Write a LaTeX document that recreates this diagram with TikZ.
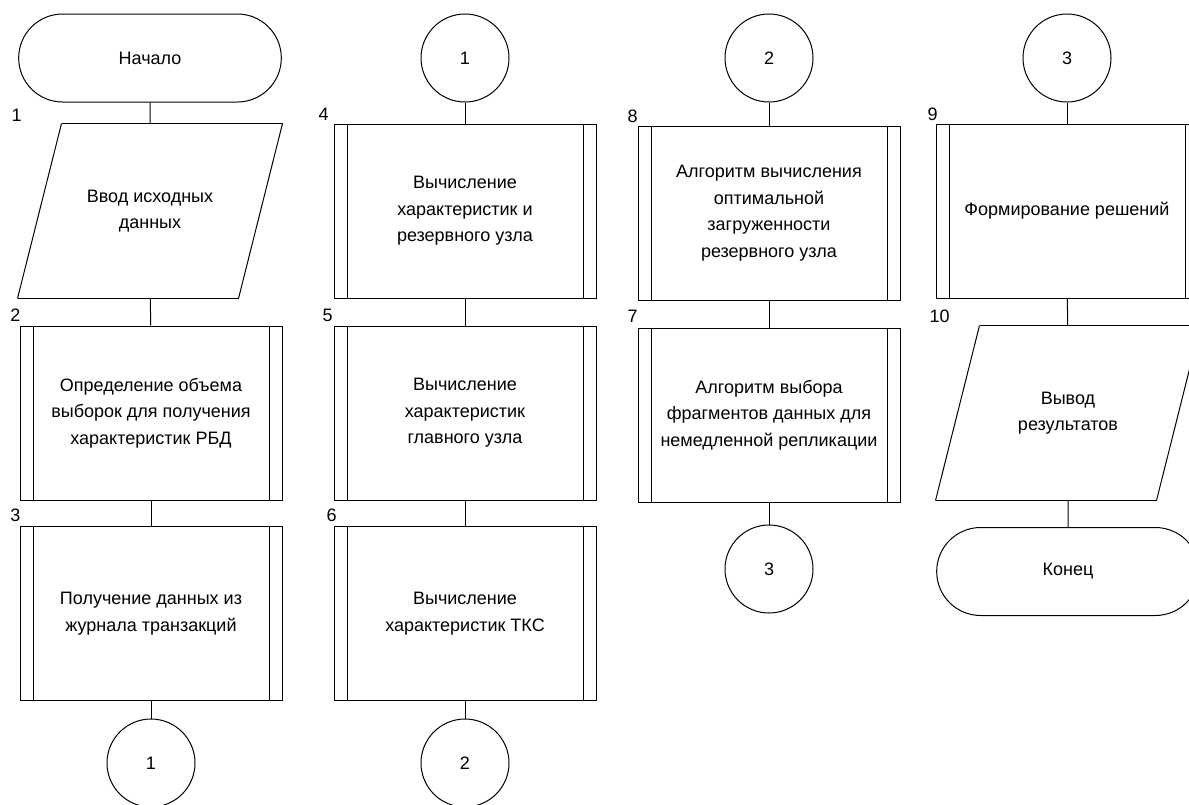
\documentclass[tikz,border=0pt]{standalone}
\usepackage{fontspec}
\setmainfont{Liberation Sans}
\usepackage{tikz}
\usetikzlibrary{
  shapes.misc
}

\begin{document}
\begin{tikzpicture}[
          x=0.5pt,y=-0.5pt,
          line width=0.5pt,
          every node/.style={
              font=\fontsize{9pt}{13.3pt}\selectfont
            },terminal/.style={
              draw,
              rounded rectangle,
              minimum width=138pt,
              minimum height=44pt
            },connector/.style={
              draw,
              circle,
              inner sep=0pt,
              minimum size=44pt
            },io/.style={
              rectangle,
              minimum width=132pt,
              minimum height=87pt,
              align=center,
              append after command={
                  ([xshift=22pt]\tikzlastnode.north west) edge (\tikzlastnode.north east)
                  (\tikzlastnode.north east) edge ([xshift=-22pt]\tikzlastnode.south east)
                  ([xshift=-22pt]\tikzlastnode.south east) edge (\tikzlastnode.south west)
                  (\tikzlastnode.south west) edge ([xshift=22pt]\tikzlastnode.north west)
                }
            },subproc/.style={
              draw,
              rectangle,
              minimum width=131pt,
              minimum height=87pt,
              align=center,
              path picture={
                  \draw ([xshift=6.5pt]path picture bounding box.north west)
                    -- ([xshift=6.5pt]path picture bounding box.south west);
                  \draw ([xshift=-6.5pt]path picture bounding box.north east)
                    -- ([xshift=-6.5pt]path picture bounding box.south east);
                }
            },num/.style={
              anchor=south west,
              inner sep=0pt
            }
        ]
        % рамка рисунка
        \useasboundingbox (0,0) rectangle (1189,804);
        \clip (0,0) rectangle (1189,804);

        % столбец 1
        \node[terminal] (start) at (150,58) {Начало};
        \node[io] (vvod) at (150,211) {Ввод исходных\\данных};
        \node[subproc] (opr_obem) at (151,413) {Определение объема\\выборок для получения\\характеристик РБД};
        \node[subproc] (pol_dannyh) at (151,613.5) {Получение данных из\\журнала транзакций};
        \node[connector] (con1_out) at (151,763) {1};

        % столбец 2
        \node[connector] (con1_in) at (465,58) {1};
        \node[subproc] (vych_rez) at (465,211) {Вычисление\\характеристик и\\резервного узла};
        \node[subproc] (vych_gl) at (465,413) {Вычисление\\характеристик\\главного узла};
        \node[subproc] (vych_tks) at (465,613.5) {Вычисление\\характеристик ТКС};
        \node[connector] (con2_out) at (465,763) {2};

        % столбец 3
        \node[connector] (con2_in) at (769,58) {2};
        \node[subproc] (alg_opt) at (769,213) {Алгоритм вычисления\\оптимальной\\загруженности\\резервного узла};
        \node[subproc] (alg_vyb) at (769,415) {Алгоритм выбора\\фрагментов данных для\\немедленной репликации};
        \node[connector] (con3_out) at (769,569) {3};

        % столбец 4
        \node[connector] (con3_in) at (1067,58) {3};
        \node[subproc] (form_resh) at (1067,211) {Формирование решений};
        \node[io] (vyvod) at (1068,413) {Вывод\\результатов};
        \node[terminal] (konec) at (1068,571.5) {Конец};

        % номера блоков
        \node[num] (num1) at (11,122) {1};
        \node[num] (num2) at (10,322) {2};
        \node[num] (num3) at (10,522) {3};
        \node[num] (num4) at (318,121) {4};
        \node[num] (num5) at (322,322) {5};
        \node[num] (num6) at (326,522) {6};
        \node[num] (num8) at (627,123) {8};
        \node[num] (num7) at (627,323) {7};
        \node[num] (num9) at (927,121) {9};
        \node[num] (num10) at (929,323) {10};

        % линии потока
        \draw (start) -- (vvod);
        \draw (vvod) -- (opr_obem);
        \draw (opr_obem) -- (pol_dannyh);
        \draw (pol_dannyh) -- (con1_out);
        \draw (con1_in) -- (vych_rez);
        \draw (vych_rez) -- (vych_gl);
        \draw (vych_gl) -- (vych_tks);
        \draw (vych_tks) -- (con2_out);
        \draw (con2_in) -- (alg_opt);
        \draw (alg_opt) -- (alg_vyb);
        \draw (alg_vyb) -- (con3_out);
        \draw (con3_in) -- (form_resh);
        \draw (form_resh) -- (vyvod);
        \draw (vyvod) -- (konec);

      \end{tikzpicture}
\end{document}
